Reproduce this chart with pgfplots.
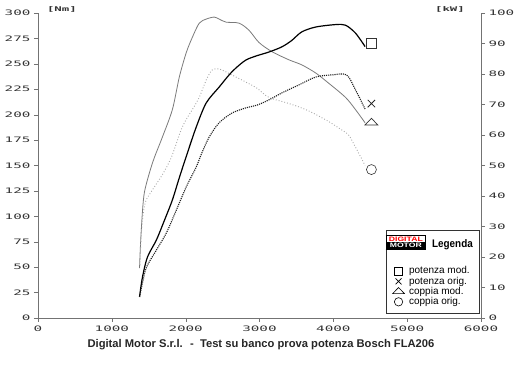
\documentclass[border=0pt]{standalone}
\usepackage{pgfplots}
\pgfplotsset{compat=1.18}
\usepackage{fontspec}
\setmainfont{Liberation Sans}
\newfontfamily\tickfont[FakeStretch=1.9]{DejaVu Sans Mono}
\newfontfamily\narrowfont[FakeStretch=0.9]{Liberation Sans}
\newfontfamily\logofont[FakeStretch=1.35]{Liberation Sans}
\definecolor{torqmod}{HTML}{7A7A7A}
\definecolor{torqorig}{HTML}{A8A8A8}
\definecolor{poworig}{HTML}{1E1E1E}
\newcommand\logo{{\logofont\bfseries\fontsize{6.4}{6.6}\selectfont\fboxsep=0pt\fboxrule=0.6pt\fbox{\vbox{\offinterlineskip\hbox to 39pt{\hss\rule[-1pt]{0pt}{6.2pt}\textcolor{red}{DIGITAL}\hss}\kern0.4pt\hbox{\colorbox{black}{\hbox to 39pt{\hss\rule[-1.2pt]{0pt}{6.6pt}\textcolor{white}{MOTOR}\hss}}}}}}}

\pgfplotsset{base/.style={
  width=443pt, height=305pt, scale only axis,
  at={(38pt,49pt)}, anchor=south west,
  xmin=0, xmax=6000,
  tick align=outside, major tick length=4pt,
  axis line style={black!55, -},
  every outer x axis line/.append style={-},
  every outer y axis line/.append style={-},
  tick style={black!55},
  tick label style={font=\tickfont\fontsize{7.5}{8}\selectfont, text=black!80},
  /pgf/number format/assume math mode=true,
  /pgf/number format/1000 sep={},
}}

\begin{document}
\begin{tikzpicture}
\useasboundingbox (0,0) rectangle (520pt,367pt);
% ---------- torque axis (Nm) ----------
\begin{axis}[base,
  axis x line*=bottom, axis y line*=left,
  ymin=0, ymax=300, ytick={0,25,...,300},
  xtick={0,1000,...,6000},
  clip=false]
% coppia mod. (gray solid)
\addplot[torqmod, line width=0.8pt, smooth, forget plot] coordinates {
(1375,49) (1390,75) (1415,105) (1442,124) (1510,143) (1577,158) (1685,178)
(1820,205) (1914,237) (2008,261) (2090,276) (2184,290) (2278,294) (2386,296)
(2453,294) (2548,291) (2723,290) (2858,283) (2993,271) (3168,262) (3397,254)
(3572,249) (3761,241) (3936,231) (4165,217) (4300,205) (4430,192)};
% coppia orig. (gray dotted)
\addplot[torqorig, line width=0.9pt, dotted, smooth, forget plot] coordinates {
(1380,52) (1395,78) (1420,100) (1460,115) (1550,126) (1685,141) (1806,158)
(1955,188) (2090,205) (2184,217) (2278,234) (2359,244) (2453,245) (2548,242)
(2682,237) (2817,232) (2966,226) (3127,217) (3397,211) (3626,205) (3896,195)
(4071,187) (4206,180) (4300,168) (4381,157) (4430,150)};
% end markers
\addplot[only marks, forget plot, mark=triangle, mark size=7.5pt, mark options={yscale=0.6, black!80, line width=0.7pt}] coordinates {(4516,192)};
\addplot[only marks, forget plot, mark=o, mark size=5pt, mark options={black!80, line width=0.6pt}] coordinates {(4516,146)};
\node[font=\tickfont\bfseries\fontsize{6.5}{7}\selectfont, text=black!80] at (axis description cs:0.054,1.01) {[Nm]};
\end{axis}
% ---------- power axis (kW) ----------
\begin{axis}[base,
  axis x line=none, axis y line*=right,
  ymin=0, ymax=100, ytick={0,10,...,100},
  clip=false,
  legend style={at={(0.9955,0.0164)}, anchor=south east, draw=black!80, fill=white,
    font=\fontsize{10}{11}\selectfont, row sep=0.3pt, inner xsep=4pt, inner ysep=6pt,
    nodes={inner ysep=0.6pt}},
  legend cell align=left]
% potenza mod. (black solid)
\addplot[black, line width=1.2pt, smooth, forget plot] coordinates {
(1375,6.9) (1415,13.4) (1483,20) (1604,25.6) (1712,32) (1820,38.7) (1914,46)
(2022,54) (2143,62.6) (2278,70.5) (2453,75.7) (2588,79.7) (2682,82) (2817,84.6)
(2966,86.0) (3127,87.2) (3303,88.9) (3437,91) (3572,93.8) (3761,95.4) (4030,96.2)
(4165,96) (4300,93.4) (4430,89)};
% potenza orig. (black dotted)
\addplot[poworig, line width=1.1pt, densely dotted, smooth, forget plot] coordinates {
(1375,6.9) (1420,12) (1470,16.7) (1604,22.3) (1739,27.9) (1874,35.4) (2008,43)
(2143,49.5) (2217,54) (2318,59.3) (2453,64) (2628,67.2) (2817,68.9) (2966,69.8)
(3127,71.5) (3303,73.8) (3532,76.4) (3761,79) (3977,79.7) (4179,79.7) (4300,74.8)
(4430,68.5)};
\addplot[only marks, forget plot, mark=square, mark size=4.7pt, mark options={black!80, line width=0.6pt}] coordinates {(4516,90)};
\addplot[only marks, forget plot, mark=x, mark size=5.2pt, mark options={black!85, line width=0.8pt}] coordinates {(4516,70.3)};
\node[font=\tickfont\bfseries\fontsize{6.5}{7}\selectfont, text=black!80] at (axis description cs:0.93,1.01) {[kW]};
\addlegendimage{legend image code/.code={\path[draw=none, fill=none] (0,-21.5pt) rectangle (0.6cm,8pt); \node[overlay, anchor=west, inner sep=0pt, draw=none, fill=none] at (-4.5pt,2pt) {\logo};}}
\addlegendentry{\hspace*{23pt}{\narrowfont\bfseries\fontsize{11}{12}\selectfont Legenda}}
\addlegendimage{only marks, mark=square, mark size=4pt, mark options={black, line width=0.6pt}}
\addlegendentry{potenza mod.}
\addlegendimage{only marks, mark=x, mark size=4.2pt, mark options={black, line width=0.7pt}}
\addlegendentry{potenza orig.}
\addlegendimage{only marks, mark=triangle, mark size=6.8pt, mark options={black, line width=0.6pt, yscale=0.6}}
\addlegendentry{coppia mod.}
\addlegendimage{only marks, mark=o, mark size=4.2pt, mark options={black, line width=0.6pt}}
\addlegendentry{coppia orig.}
\end{axis}
\node[font=\bfseries\fontsize{11.2}{13}\selectfont, text=black!85] at (261pt,22pt) {Digital Motor S.r.l. \ - \ Test su banco prova potenza Bosch FLA206};
\end{tikzpicture}
\end{document}
